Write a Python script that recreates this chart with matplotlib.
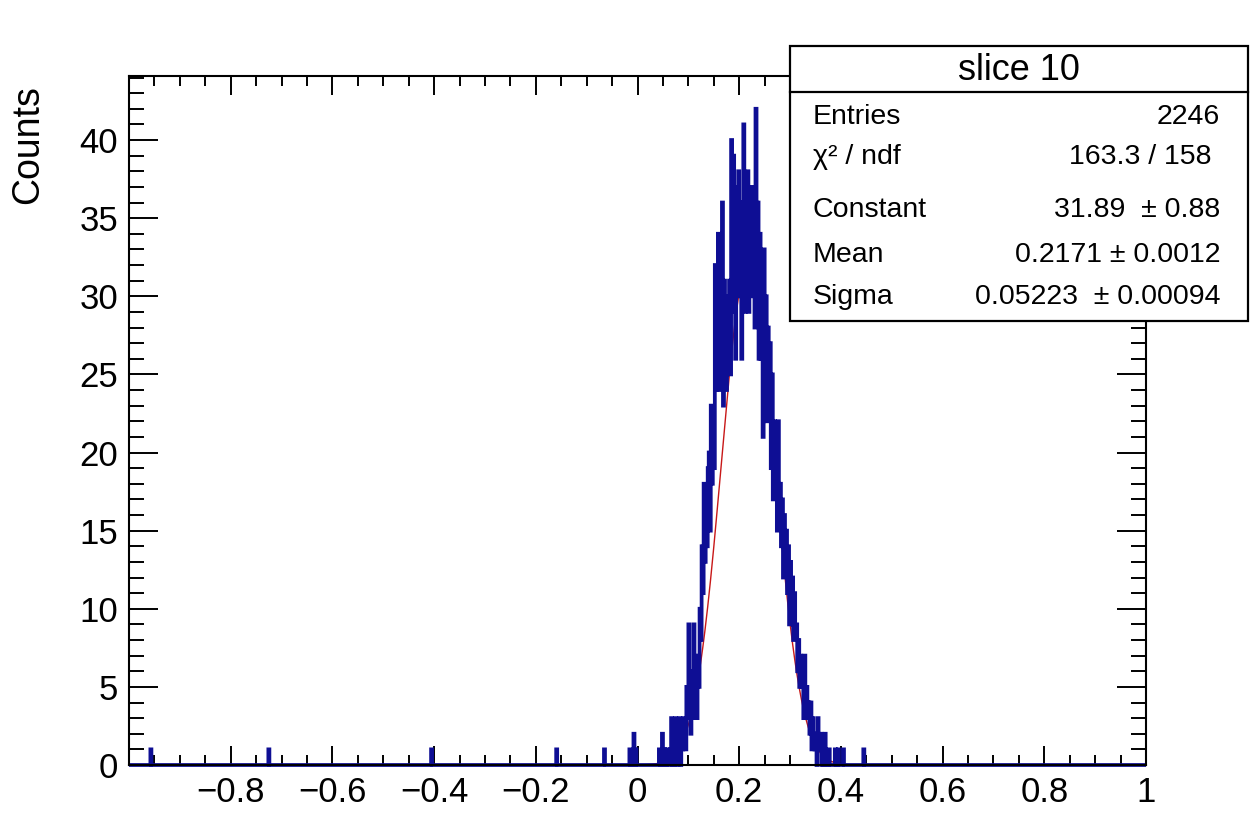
import numpy as np
import matplotlib.pyplot as plt
from matplotlib.patches import Rectangle
from matplotlib.lines import Line2D
from matplotlib.ticker import MultipleLocator

plt.rcParams["font.family"] = ["Liberation Sans", "DejaVu Sans"]

# histogram binning
n_bins = 1000
x_lo, x_hi = -1.0, 1.0

# counts, contiguous bins of 0.002 starting at peak_start
peak_start = 0.040
peak_counts = [
    0, 1, 0, 0, 2, 0, 1, 0, 0, 1,          # 0.040
    0, 0, 1, 3, 0, 1, 0, 3, 2, 0,          # 0.060
    1, 3, 0, 2, 1, 3, 2, 1, 5, 3,          # 0.080
    9, 4, 2, 6, 3, 9, 5, 7, 3, 6,          # 0.100
    5, 10, 8, 14, 11, 18, 13, 16, 14, 19,  # 0.120
    20, 15, 23, 18, 22, 19, 32, 24, 27, 34,  # 0.140
    24, 30, 26, 36, 23, 31, 28, 24, 30, 27,  # 0.160
    31, 25, 40, 29, 39, 33, 26, 37, 31, 38,  # 0.180
    30, 36, 26, 33, 41, 29, 37, 32, 38, 29,  # 0.200
    35, 31, 37, 30, 33, 28, 42, 30, 36, 26,  # 0.220
    34, 26, 31, 21, 33, 25, 30, 22, 28, 24,  # 0.240
    27, 19, 25, 17, 22, 20, 21, 15, 22, 18,  # 0.260
    18, 14, 17, 12, 16, 13, 15, 11, 14, 9,   # 0.280
    13, 10, 12, 8, 11, 9, 9, 6, 8, 5,        # 0.300
    7, 5, 6, 3, 7, 4, 5, 3, 4, 2,            # 0.320
    4, 1, 3, 2, 1, 2, 0, 3, 1, 2,            # 0.340
    2, 0, 1, 0, 2, 0, 0, 0, 1, 0,            # 0.360
    0, 0, 0, 0, 1, 0, 0, 1, 0, 0,            # 0.380
    0, 0, 1, 0, 0, 0, 0, 0, 0, 0,            # 0.400
]

# isolated entries away from the peak
outlier_x = [-0.957, -0.725, -0.406, -0.160, -0.065, -0.016, -0.008, -0.004, 0.445]
outlier_counts = [1, 1, 1, 1, 1, 1, 2, 1, 1]

# gaussian fit, parameters from the stats box
fit_const, fit_mean, fit_sigma = 31.89, 0.2171, 0.05223
fit_range = [0.0, 0.43]

stats_title = "slice 10"
stats_names = ["Entries", "χ² / ndf", "Constant", "Mean", "Sigma"]
stats_values = ["2246", "163.3 / 158", "31.89  ± 0.88", "0.2171 ± 0.0012", "0.05223  ± 0.00094"]

x_ticks = [-1.0, -0.8, -0.6, -0.4, -0.2, 0.0, 0.2, 0.4, 0.6, 0.8, 1.0]
x_tick_labels = ["", "−0.8", "−0.6", "−0.4", "−0.2", "0", "0.2", "0.4", "0.6", "0.8", "1"]
y_ticks = [0, 5, 10, 15, 20, 25, 30, 35, 40]

# build the histogram
edges = np.linspace(x_lo, x_hi, n_bins + 1)
width = (x_hi - x_lo) / n_bins
counts = np.zeros(n_bins)
i0 = int(round((peak_start - x_lo) / width))
counts[i0:i0 + len(peak_counts)] = peak_counts
for x, c in zip(outlier_x, outlier_counts):
    counts[int((x - x_lo) / width)] = c

fig = plt.figure(figsize=(12.54, 8.16), dpi=100)
ax = fig.add_axes([0.1029, 0.0625, 0.811, 0.8444])

xf = np.linspace(fit_range[0], fit_range[1], 400)
yf = fit_const * np.exp(-0.5 * ((xf - fit_mean) / fit_sigma) ** 2)
ax.plot(xf, yf, color="#c81818", lw=1.0, zorder=1)

ax.stairs(counts, edges, color="#0e0e94", lw=2.7, zorder=2, clip_on=False)

ax.set_xlim(x_lo, x_hi)
ax.set_ylim(0, 44.1)

ax.set_xticks(x_ticks, x_tick_labels)
ax.set_yticks(y_ticks)
ax.xaxis.set_minor_locator(MultipleLocator(0.05))
ax.yaxis.set_minor_locator(MultipleLocator(1))

ax.tick_params(which="both", direction="in", top=True, right=True, width=1.4,
               labelsize=25, colors="black")
ax.tick_params(axis="x", which="major", length=14, pad=8)
ax.tick_params(axis="x", which="minor", length=7)
ax.tick_params(axis="y", which="major", length=21, pad=8)
ax.tick_params(axis="y", which="minor", length=10.5)
for s in ax.spines.values():
    s.set_linewidth(1.5)

fig.text(0.0223, 0.8958, "Counts", rotation=90, ha="center", va="top", fontsize=27)

# stats box
bx0, bx1, by0, by1 = 0.630, 0.995, 0.6066, 0.9436
fig.add_artist(Rectangle((bx0, by0), bx1 - bx0, by1 - by0, transform=fig.transFigure,
                         facecolor="white", edgecolor="black", lw=1.6, zorder=10))
fig.add_artist(Line2D([bx0, bx1], [0.887, 0.887], transform=fig.transFigure,
                      color="black", lw=1.6, zorder=11))
fig.text((bx0 + bx1) / 2, 0.9142, stats_title, ha="center", va="center",
         fontsize=26, zorder=12)
row_y = [0.8566, 0.8076, 0.7426, 0.6875, 0.636]
row_right = [0.9729, 0.9665, 0.9729, 0.9729, 0.9729]
for name, val, y, xr in zip(stats_names, stats_values, row_y, row_right):
    fig.text(0.6483, y, name, ha="left", va="center", fontsize=20.5, zorder=12)
    fig.text(xr, y, val, ha="right", va="center", fontsize=20.5, zorder=12)

fig.savefig("out.png", dpi=100)
